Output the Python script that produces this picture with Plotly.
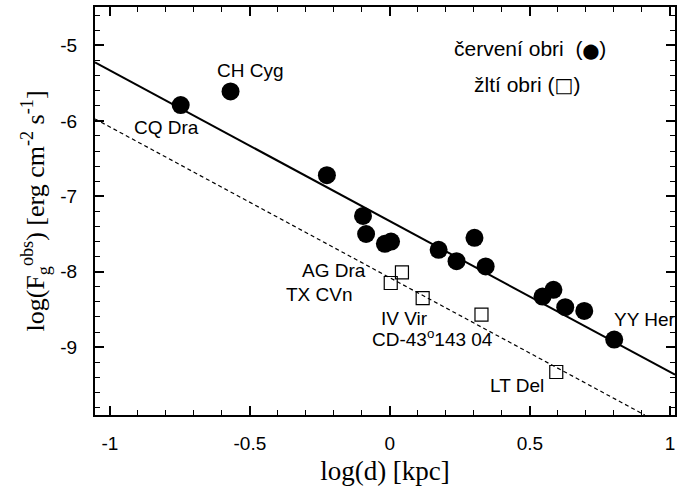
import plotly.graph_objects as go
import numpy as np

# red giants (filled circles)
red_x = [-0.747, -0.569, -0.225, -0.096, -0.085, -0.018, 0.004, 0.174, 0.302, 0.238, 0.342, 0.545, 0.584, 0.626, 0.694, 0.801]
red_y = [-5.79, -5.61, -6.72, -7.26, -7.50, -7.63, -7.60, -7.71, -7.55, -7.86, -7.93, -8.33, -8.24, -8.47, -8.52, -8.90]
# yellow giants (open squares)
yel_x = [0.043, 0.003, 0.117, 0.327, 0.594]
yel_y = [-8.01, -8.15, -8.35, -8.57, -9.33]

# fits: y = a + b*x
solid_a, solid_b = -7.33, -2.0
dash_a, dash_b = -8.08, -2.0

# star labels
lab_text = ["CH Cyg", "CQ Dra", "AG Dra", "TX CVn", "IV Vir", "CD-43<sup>o</sup>143 04", "LT Del", "YY Her"]
lab_x = [-0.498, -0.676, -0.08, -0.125, 0.053, 0.153, 0.559, 0.794]
lab_y = [-5.33, -6.09, -7.99, -8.30, -8.62, -8.88, -9.51, -8.64]
lab_anchor = ["center", "right", "right", "right", "center", "center", "right", "left"]

xr = [-1.053, 1.018]
yr = [-9.9, -4.49]

fig = go.Figure()
lx = np.array(xr)
fig.add_trace(go.Scatter(x=lx, y=solid_a + solid_b * lx, mode="lines",
                         line=dict(color="black", width=2), showlegend=False))
dx = np.array([xr[0], (yr[0] - dash_a) / dash_b])
fig.add_trace(go.Scatter(x=dx, y=dash_a + dash_b * dx, mode="lines",
                         line=dict(color="black", width=1.2, dash="4px,3px"), showlegend=False))
fig.add_trace(go.Scatter(x=red_x, y=red_y, mode="markers",
                         marker=dict(symbol="circle", size=18, color="black"), showlegend=False))
fig.add_trace(go.Scatter(x=yel_x, y=yel_y, mode="markers",
                         marker=dict(symbol="square-open", size=13, color="black", line=dict(width=1.2)),
                         showlegend=False))

for t, x, y, a in zip(lab_text, lab_x, lab_y, lab_anchor):
    fig.add_annotation(x=x, y=y, text=t, showarrow=False, xanchor=a, yanchor="middle",
                       font=dict(family="Liberation Sans, Arial", size=19, color="black"))

fig.add_annotation(x=0.502, y=-5.04,
                   text="červení obri  (<span style='font-family:DejaVu Sans;font-size:15px'>⬤</span>)",
                   showarrow=False, xanchor="center", yanchor="middle",
                   font=dict(family="Liberation Sans, Arial", size=21, color="black"))
fig.add_annotation(x=0.49, y=-5.53,
                   text="žltí obri (<span style='font-family:DejaVu Sans;font-size:20px'>□</span>)",
                   showarrow=False, xanchor="center", yanchor="middle",
                   font=dict(family="Liberation Sans, Arial", size=21, color="black"))

axis_common = dict(showline=True, linecolor="black", linewidth=2, mirror="allticks",
                   ticks="inside", ticklen=9, tickwidth=1.5, tickcolor="black",
                   showgrid=False, zeroline=False,
                   tickfont=dict(family="Liberation Sans, Arial", size=19, color="black"))

fig.update_xaxes(range=xr, tickvals=[-1, -0.5, 0, 0.5, 1], ticktext=["-1", "-0.5", "0", "0.5", "1"],
                 ticklabelstandoff=10,
                 minor=dict(dtick=0.1, tick0=0, ticks="inside", ticklen=5, tickwidth=1.2, tickcolor="black"),
                 title=dict(text="log(d) [kpc]", standoff=10,
                            font=dict(family="Liberation Serif, Times New Roman", size=27, color="black")),
                 **axis_common)
fig.update_yaxes(range=yr, tickvals=[-5, -6, -7, -8, -9], ticktext=["-5", "-6", "-7", "-8", "-9"],
                 ticklabelstandoff=12,
                 minor=dict(dtick=0.2, tick0=0, ticks="inside", ticklen=5, tickwidth=1.2, tickcolor="black"),
                 title=dict(text="log(F<sub>g</sub><sup>obs</sup>) [erg cm<sup>-2</sup> s<sup>-1</sup>]",
                            standoff=8,
                            font=dict(family="Liberation Serif, Times New Roman", size=26, color="black")),
                 **axis_common)

fig.update_layout(width=677, height=486, margin=dict(l=95, r=0, t=7, b=71),
                  plot_bgcolor="white", paper_bgcolor="white")
fig.write_html("out.html")
